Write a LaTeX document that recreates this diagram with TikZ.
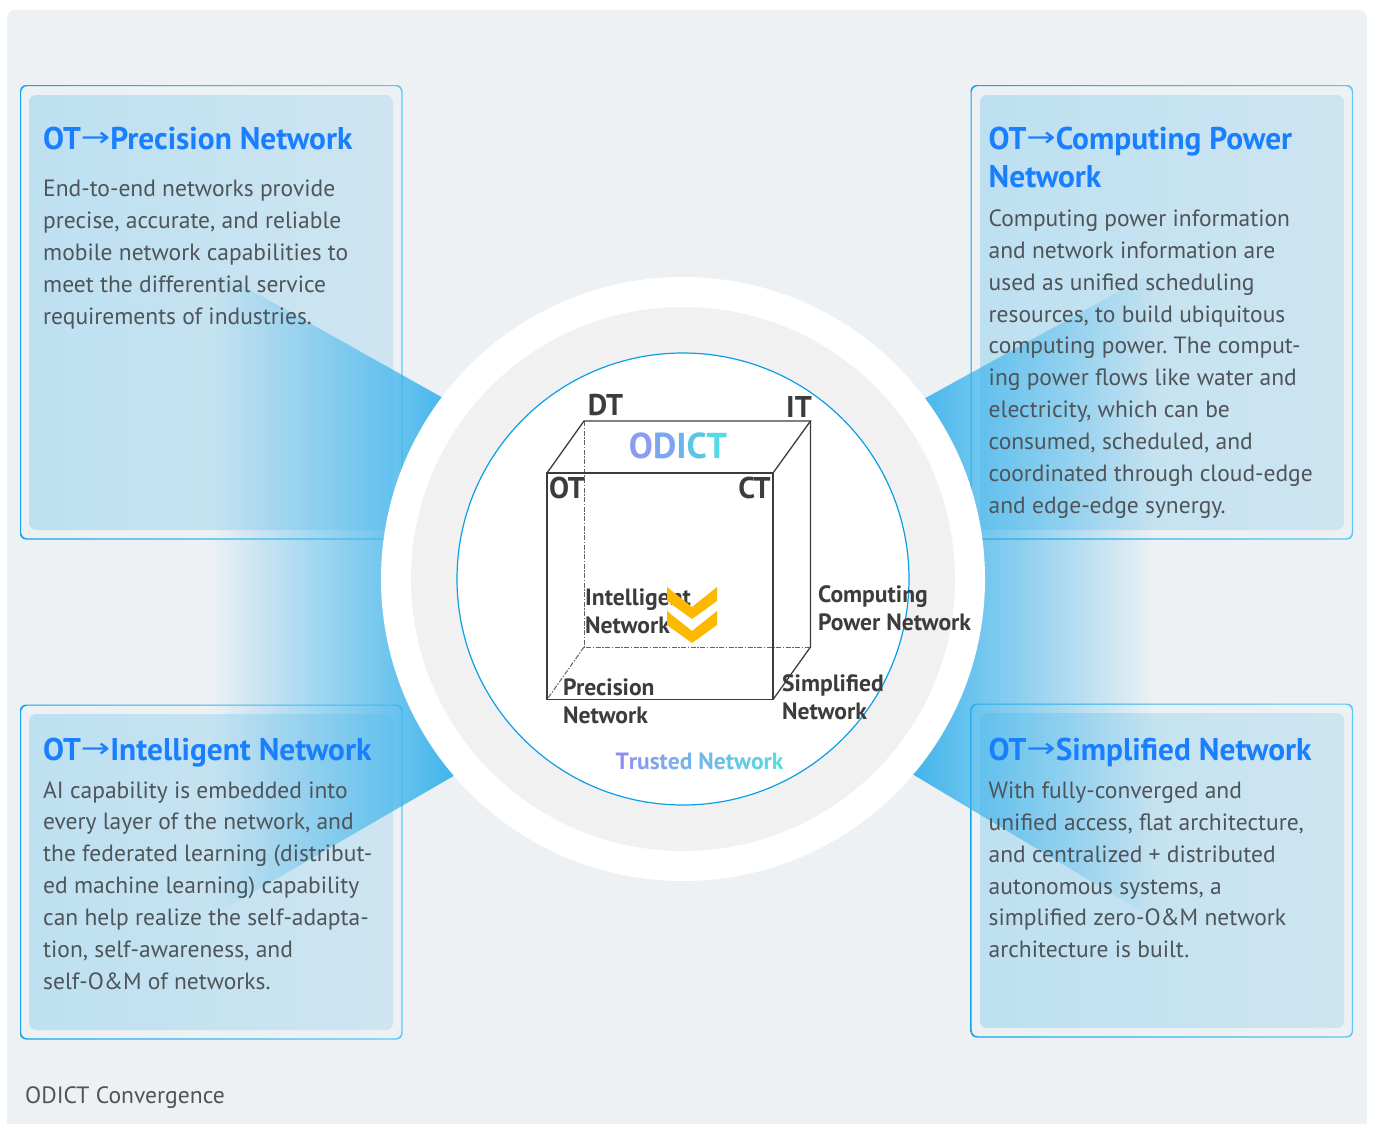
\documentclass[tikz,border=0pt]{standalone}
\usepackage{fontspec}
\setmainfont{PT Sans}
\newfontfamily\arrowfont{DejaVu Sans}
\usetikzlibrary{fadings}
\definecolor{bgc}{HTML}{EDF1F4}
\definecolor{panL}{HTML}{BDE0F1}
\definecolor{panR}{HTML}{CEE5F1}
\definecolor{edgeL}{HTML}{12A5EC}
\definecolor{edgeR}{HTML}{5CC8F4}
\definecolor{fanc}{HTML}{38B2EC}
\definecolor{ring}{HTML}{F1F1F1}
\definecolor{ringl}{HTML}{0A9FE6}
\definecolor{ttl}{HTML}{1A7FFF}
\definecolor{body}{HTML}{4F5459}
\definecolor{dk}{HTML}{3C3C3C}
\definecolor{chev}{HTML}{FDB900}
\tikzfading[name=fadeleft, left color=transparent!100, right color=transparent!0]
\tikzfading[name=faderight, left color=transparent!0, right color=transparent!100]
\newcommand{\arr}{{\arrowfont\mdseries\fontsize{27}{27}\selectfont\raisebox{2.5pt}{\scalebox{1.3}[1]{→}}}}
\tikzset{
  outerbox/.style={rounded corners=6pt, left color=edgeL, right color=edgeR, even odd rule},
  innerbox/.style={rounded corners=7pt, left color=panL, right color=panR, draw=none},
  title/.style={anchor=base west, inner sep=0pt, text=ttl, font=\fontsize{31.4}{38}\selectfont\bfseries, align=left},
  bodytext/.style={anchor=base west, inner sep=0pt, text=body, font=\fontsize{23.5}{31.9}\selectfont\frenchspacing, align=left},
  cube/.style={draw=dk, line width=1.3pt},
  cubeback/.style={draw=dk!80, line width=1pt, dash pattern=on 5pt off 1.5pt on 1.5pt off 1.5pt},
  lab/.style={anchor=base west, inner sep=0pt, text=dk, font=\fontsize{23.6}{28}\selectfont\bfseries, align=left},
  big/.style={anchor=base, inner sep=0pt, text=dk, font=\fontsize{30}{30}\selectfont\bfseries},
  chevron/.style={fill=chev, draw=none}
}
\begin{document}
\begin{tikzpicture}[x=1pt,y=-1pt]
\useasboundingbox (0,0) rectangle (1373,1124);
\fill[bgc, rounded corners=8pt] (7,10) rectangle (1367,1130);
% panels
\path[innerbox] (29,95) rectangle (393,530);
\path[innerbox] (29,714) rectangle (393,1030);
\path[innerbox] (980,95) rectangle (1344,530);
\path[innerbox] (980,713) rectangle (1344,1028);
\path[outerbox] (20,85) rectangle (402.5,539.5) (21.2,86.2) rectangle (401.3,538.3);
\path[outerbox] (20,704.5) rectangle (402.5,1039.5) (21.2,705.7) rectangle (401.3,1038.3);
\path[outerbox] (970.5,85) rectangle (1353,539.5) (971.7,86.2) rectangle (1351.8,538.3);
\path[outerbox] (970.5,703.5) rectangle (1353,1037.5) (971.7,704.7) rectangle (1351.8,1036.3);
% fans
\fill[fanc, path fading=fadeleft] (212,268) -- (442,397) -- (465,410) -- (465,769) -- (455,775) -- (212,916) -- cycle;
\fill[fanc, path fading=faderight] (900,411) -- (926,397) -- (1153,272) -- (1153,918) -- (913,774) -- (900,766) -- cycle;
% circles
\fill[white] (683,579) circle (302);
\fill[ring] (683,579) circle (272);
\draw[ringl, fill=white, line width=1.2pt] (683,579) circle (226);
% cube
\coordinate (fa) at (547,473); \coordinate (fb) at (773,473);
\coordinate (fc) at (773,699.5); \coordinate (fd) at (547,699.5);
\coordinate (ba) at (584,421); \coordinate (bb) at (810.5,421);
\coordinate (bc) at (810.5,647); \coordinate (bd) at (584,647);
\draw[cubeback] (ba) -- (bd) -- (bc);
\draw[cubeback] (bd) -- (fd);
\draw[cube] (fa) -- (fb) -- (fc) -- (fd) -- cycle;
\draw[cube] (fa) -- (ba) -- (bb) -- (fb);
\draw[cube] (bb) -- (bc) -- (fc);
% cube labels
\node[big] (dt) at (605.5,415) {DT};
\node[big] (it) at (799,417) {IT};
\node[big] (ot) at (567,498) {OT};
\node[big] (ct) at (754.5,498) {CT};
\node[anchor=base, inner sep=0pt, font=\fontsize{36}{36}\selectfont\bfseries] (odict) at (678,458) {\textcolor[HTML]{8C9CF0}{O}\textcolor[HTML]{7CA6EE}{D}\textcolor[HTML]{6CB2EC}{I}\textcolor[HTML]{5CC4E6}{C}\textcolor[HTML]{55DBE4}{T}};
\node[lab] (intel) at (585,633) {Intelligent\\Network};
\fill[chevron] (667,587) -- (692,607) -- (717,587) -- (717,601) -- (692,619) -- (667,601) -- cycle;
\fill[chevron] (667,611) -- (692,631) -- (717,611) -- (717,625) -- (692,643) -- (667,625) -- cycle;
\node[lab] (comp) at (818,630) {Computing\\Power Network};
\node[lab] (prec) at (563,723) {Precision\\Network};
\node[lab] (simp) at (782,719) {Simplified\\Network};
\node[anchor=base, inner sep=0pt, font=\fontsize{23.5}{24}\selectfont\bfseries] (trust) at (699.5,769) {\textcolor[HTML]{8C8FF0}{T}\textcolor[HTML]{8A97F0}{r}\textcolor[HTML]{869DEF}{u}\textcolor[HTML]{82A3EE}{s}\textcolor[HTML]{7EA9ED}{t}\textcolor[HTML]{7AAEEC}{e}\textcolor[HTML]{76B3EB}{d} \textcolor[HTML]{70B8EA}{N}\textcolor[HTML]{6CBDE9}{e}\textcolor[HTML]{67C3E7}{t}\textcolor[HTML]{62CAE5}{w}\textcolor[HTML]{5DD1E2}{o}\textcolor[HTML]{5AD6E0}{r}\textcolor[HTML]{57DBDE}{k}};
% panel text
\node[title] (t1) at (43,149) {OT\arr Precision Network};
\node[bodytext] (b1) at (43,324.2) {End-to-end networks provide\\precise, accurate, and reliable\\mobile network capabilities to\\meet the differential service\\requirements of industries.};
\node[title] (t2) at (988.5,187) {OT\arr Computing Power\\Network};
\node[bodytext] (b2) at (988.5,513.4) {Computing power information\\and network information are\\used as unified scheduling\\resources, to build ubiquitous\\computing power. The comput-\\ing power flows like water and\\electricity, which can be\\consumed, scheduled, and\\coordinated through cloud-edge\\and edge-edge synergy.};
\node[title] (t3) at (43,760) {OT\arr Intelligent Network};
\node[bodytext] (b3) at (43,989.4) {AI capability is embedded into\\every layer of the network, and\\the federated learning (distribut-\\ed machine learning) capability\\can help realize the self-adapta-\\tion, self-awareness, and\\self-O\&M of networks.};
\node[title] (t4) at (988.5,760) {OT\arr Simplified Network};
\node[bodytext] (b4) at (988.5,957.8) {With fully-converged and\\unified access, flat architecture,\\and centralized + distributed\\autonomous systems, a\\simplified zero-O\&M network\\architecture is built.};
\node[anchor=base west, inner sep=0pt, text=body, font=\fontsize{23.6}{24}\selectfont] (cap) at (25,1103) {ODICT Convergence};
\end{tikzpicture}
\end{document}
